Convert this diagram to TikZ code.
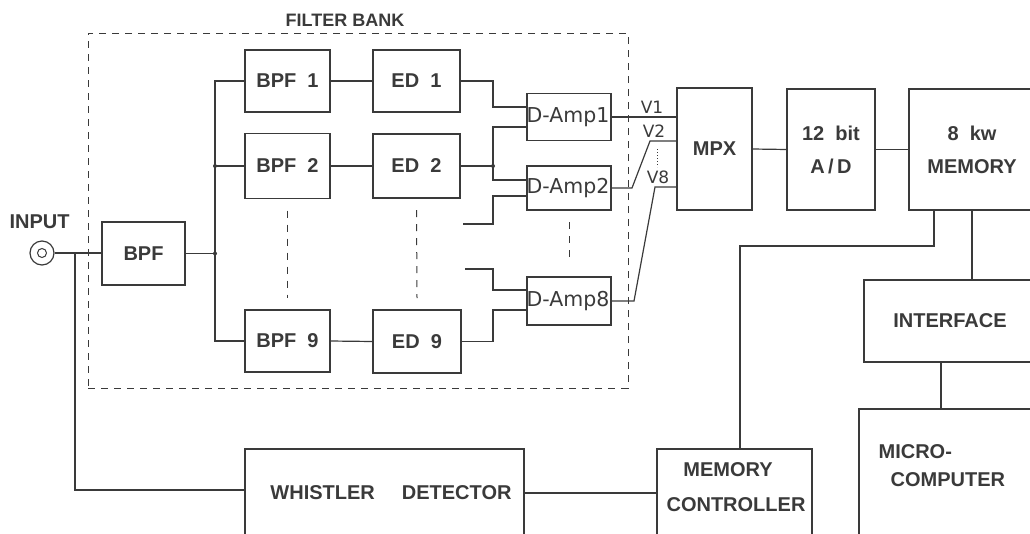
\documentclass[tikz,border=0pt]{standalone}
\usepackage{fontspec}
\setmainfont{Liberation Sans}
\newfontfamily\dvfont{DejaVu Sans}
\usetikzlibrary{calc}
\definecolor{ink}{HTML}{3A3A3A}
\begin{document}
\begin{tikzpicture}[x=1pt,y=-1pt, line width=1.2pt, color=ink,
  blk/.style={draw, rectangle, inner sep=0pt, outer sep=0pt, align=center,
    font=\fontsize{20}{33}\selectfont\bfseries},
  lbl/.style={inner sep=0pt, font=\fontsize{20}{24}\selectfont\bfseries},
  dtxt/.style={inner sep=0pt, anchor=west, font=\dvfont\fontsize{20.5}{24}\selectfont},
  vtxt/.style={inner sep=0pt, font=\dvfont\fontsize{17}{20}\selectfont},
  vdash/.style={dash pattern=on 7pt off 7pt, line width=1pt},
  fbdash/.style={draw, dash pattern=on 7pt off 6pt, line width=1pt, inner sep=0pt},
  jdot/.style={circle, fill=ink, inner sep=0pt, minimum size=4pt}]
\useasboundingbox (0,0) rectangle (1030,533);
\clip (0,0) rectangle (1030,533);

% filter bank frame
\node[fbdash, minimum width=540pt, minimum height=355pt] (fb) at (358,210.5) {};
\node[inner sep=0pt, font=\fontsize{18}{20}\selectfont\bfseries] (fbl) at (345,20) {FILTER BANK};

% input
\node[lbl] (inl) at (39.5,222) {INPUT};
\node[circle, draw, minimum size=24pt, inner sep=0pt] (inp) at (42,253) {};
\node[circle, draw, minimum size=9pt, inner sep=0pt, line width=1pt] (inpc) at (inp.center) {};

% blocks
\node[blk, minimum width=83pt, minimum height=63pt] (bpf) at (143.5,253.5) {BPF};
\node[blk, minimum width=85pt, minimum height=62pt] (bpf1) at (287.5,81) {BPF\ \ 1};
\node[blk, minimum width=85pt, minimum height=65pt] (bpf2) at (287.5,166) {BPF\ \ 2};
\node[blk, minimum width=85pt, minimum height=62pt] (bpf9) at (287.5,341) {BPF\ \ 9};
\node[blk, minimum width=87pt, minimum height=62pt] (ed1) at (416.5,81) {ED\ \ 1};
\node[blk, minimum width=87pt, minimum height=64pt] (ed2) at (416.5,166) {ED\ \ 2};
\node[blk, minimum width=88pt, minimum height=63pt] (ed9) at (417,341.5) {ED\ \ 9};

\node[blk, minimum width=84pt, minimum height=47pt] (da1) at (569,117) {};
\node[blk, minimum width=84pt, minimum height=44pt] (da2) at (569,188) {};
\node[blk, minimum width=84pt, minimum height=48pt] (da8) at (569,301) {};
\node[dtxt] (da1t) at ([xshift=-1pt]da1.west) {D-Amp1};
\node[dtxt] (da2t) at ([xshift=-1pt]da2.west) {D-Amp2};
\node[dtxt] (da8t) at ([xshift=-1pt]da8.west) {D-Amp8};

\node[blk, minimum width=75pt, minimum height=122pt] (mpx) at (714.5,149) {MPX};
\node[blk, minimum width=88pt, minimum height=121pt] (ad) at (831,149.5) {12\ \ bit\\A\,/\,D};
\node[blk, minimum width=126pt, minimum height=121pt] (mem) at (972,149.5) {8\ \ kw\\MEMORY};
\node[blk, minimum width=172pt, minimum height=82pt] (iface) at (950,321) {INTERFACE};

\node[blk, minimum width=181pt, minimum height=151pt] (micro) at (949.5,484.5) {};
\node[lbl, anchor=west] (microa) at (878,452) {MICRO-};
\node[lbl, anchor=west] (microb) at (890,480) {COMPUTER};

\node[blk, minimum width=279pt, minimum height=111pt] (wd) at (384.5,504.5) {};
\node[lbl] (wdt) at (391,493) {WHISTLER\hspace{27pt}DETECTOR};

\node[blk, minimum width=155pt, minimum height=111pt] (mc) at (734.5,504.5) {};
\node[lbl] (mca) at (728,470) {MEMORY};
\node[lbl] (mcb) at (736,505) {CONTROLLER};

% helper coordinates
\coordinate (j0) at (75,253);
\coordinate (wdin) at (0,490);
\coordinate (bus) at (215,0);
\coordinate (col) at (493,0);
\coordinate (da1a) at ($(da1.west)+(0,-10)$);
\coordinate (da1b) at ($(da1.west)+(0,10)$);
\coordinate (da2a) at ($(da2.west)+(0,-8)$);
\coordinate (da2b) at ($(da2.west)+(0,8)$);
\coordinate (da8a) at ($(da8.west)+(0,-11)$);
\coordinate (da8b) at ($(da8.west)+(0,9)$);
\coordinate (s1) at (463,224);
\coordinate (s2) at (465,269);
\coordinate (k2a) at (632,0);
\coordinate (k2b) at (650,141);
\coordinate (k8a) at (634,0);
\coordinate (k8b) at (655,187);
\coordinate (vd1) at (657,149);
\coordinate (vd2) at (657,167);
\coordinate (m1) at (934,246);
\coordinate (m2) at (740,246);
\coordinate (i1) at (941,0);
\coordinate (wdl) at (0,493);

% input wiring
\draw (inp.east) -- (inp.east -| bpf.west);
\draw (j0) -- (j0 |- wdin) -- (wd.west |- wdin);
\draw (bpf.east) -- (bpf.east -| bus);
\draw (bpf1.west) -- (bpf1.west -| bus) -- (bpf9.west -| bus) -- (bpf9.west);
\draw (bpf2.west -| bus) -- (bpf2.west);
\node[jdot] (d1) at (bpf2.west -| bus) {};
\node[jdot] (d2) at (bpf.east -| bus) {};

% BPF -> ED
\draw (bpf1.east) -- (ed1.west);
\draw (bpf2.east) -- (ed2.west);
\draw (bpf9.east) -- (ed9.west);

% ED -> D-Amp
\draw (ed1.east) -- (ed1.east -| col) -- (col |- da1a) -- (da1a);
\draw (ed2.east) -- (ed2.east -| col);
\draw (da1b) -- (col |- da1b) -- (col |- da2a) -- (da2a);
\node[jdot] (d3) at (ed2.east -| col) {};
\draw (s1) -- (s1 -| col) -- (col |- da2b) -- (da2b);
\draw (s2) -- (s2 -| col) -- (col |- da8a) -- (da8a);
\draw (ed9.east) -- (ed9.east -| col) -- (col |- da8b) -- (da8b);

% vertical ellipsis dashes
\draw[vdash] ([yshift=-12pt]bpf2.south) -- ([yshift=12pt]bpf9.north);
\draw[vdash] ([yshift=-12pt]ed2.south) -- ([yshift=12pt]ed9.north);
\draw[vdash] ([yshift=-12pt]da2.south) -- ([yshift=15pt]da8.north);

% D-Amp -> MPX
\draw (da1.east) -- (da1.east -| mpx.west);
\draw (da2.east) -- (da2.east -| k2a) -- (k2b) -- (k2b -| mpx.west);
\draw (da8.east) -- (da8.east -| k8a) -- (k8b) -- (k8b -| mpx.west);
\draw[dotted, line width=1pt] (vd1) -- (vd2);
\node[vtxt] (v1) at (652,107) {V1};
\node[vtxt] (v2) at (654,131) {V2};
\node[vtxt] (v8) at (658,177) {V8};

% MPX -> A/D -> memory
\draw (mpx.east) -- (ad.west);
\draw (ad.east) -- (mem.west);

% memory -> controller, interface
\draw (m1 |- mem.south) -- (m1) -- (m2) -- (m2 |- mc.north);
\draw (mem.south) -- (mem.south |- iface.north);
\draw (i1 |- iface.south) -- (i1 |- micro.north);

% whistler -> controller
\draw (wd.east |- wdl) -- (mc.west |- wdl);
\end{tikzpicture}
\end{document}
